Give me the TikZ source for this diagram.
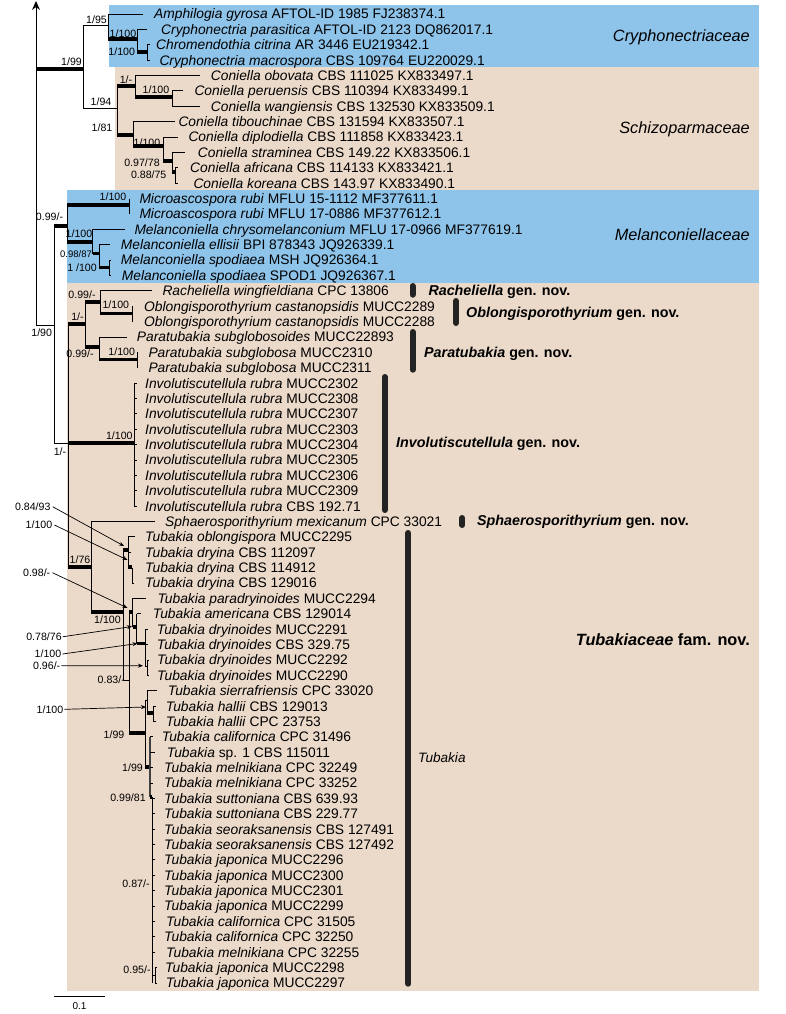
\documentclass[tikz,border=0pt]{standalone}
\usepackage{fontspec}
\setmainfont{Liberation Sans}
\usetikzlibrary{arrows.meta}
\definecolor{cblue}{RGB}{142,195,234}
\definecolor{ctan}{RGB}{235,217,201}
\definecolor{barc}{RGB}{35,35,35}
\begin{document}
\begin{tikzpicture}[x=1pt,y=-1pt,
  declare function={ry(\i)=14+15.38*\i;},
  br/.style={line width=0.9pt},
  tk/.style={line width=3.6pt},
  tax/.style={anchor=base west,inner sep=0pt,font=\fontsize{13.8}{15}\selectfont,yshift=-4.9pt},
  sup/.style={anchor=base,inner sep=0pt,font=\fontsize{10.6}{12}\selectfont,yshift=-3.8pt},
  supsm/.style={anchor=base,inner sep=0pt,font=\fontsize{9.5}{11}\selectfont,yshift=-3.4pt},
  cbar/.style={line width=6pt,line cap=round,draw=barc},
  gen/.style={anchor=base west,inner sep=0pt,font=\fontsize{14.3}{16}\selectfont\bfseries,yshift=-5.1pt},
  fam/.style={anchor=base east,inner sep=0pt,font=\fontsize{16.3}{18}\selectfont,yshift=-5.8pt},
  arr/.style={line width=0.7pt,-{Stealth[length=5pt,width=4pt]}}
]
\useasboundingbox (0,0) rectangle (786,1014);
% backgrounds
\fill[cblue] (109,5) rectangle (759,67);
\fill[ctan] (115,67) rectangle (759,190);
\fill[cblue] (67,190) rectangle (759,283);
\fill[ctan] (67,283) rectangle (759,991);

% taxa
\foreach \i/\x/\a/\b in {
0/154/{Amphilogia gyrosa}/{AFTOL-ID 1985 FJ238374.1},
1/161/{Cryphonectria parasitica}/{AFTOL-ID 2123 DQ862017.1},
2/156/{Chromendothia citrina}/{AR 3446 EU219342.1},
3/159.3/{Cryphonectria macrospora}/{CBS 109764 EU220029.1},
4/210.7/{Coniella obovata}/{CBS 111025 KX833497.1},
5/194.3/{Coniella peruensis}/{CBS 110394 KX833499.1},
6/210.7/{Coniella wangiensis}/{CBS 132530 KX833509.1},
7/178.3/{Coniella tibouchinae}/{CBS 131594 KX833507.1},
8/188.3/{Coniella diplodiella}/{CBS 111858 KX833423.1},
9/197.7/{Coniella straminea}/{CBS 149.22 KX833506.1},
10/190/{Coniella africana}/{CBS 114133 KX833421.1},
11/193.3/{Coniella koreana}/{CBS 143.97 KX833490.1},
12/139.3/{Microascospora rubi}/{MFLU 15-1112 MF377611.1},
13/139.3/{Microascospora rubi}/{MFLU 17-0886 MF377612.1},
14/134.3/{Melanconiella chrysomelanconium}/{MFLU 17-0966 MF377619.1},
15/120.7/{Melanconiella ellisii}/{BPI 878343 JQ926339.1},
16/120.7/{Melanconiella spodiaea}/{MSH JQ926364.1},
17/121.7/{Melanconiella spodiaea}/{SPOD1 JQ926367.1},
18/162.3/{Racheliella wingfieldiana}/{CPC 13806},
19/144/{Oblongisporothyrium castanopsidis}/{MUCC2289},
20/144/{Oblongisporothyrium castanopsidis}/{MUCC2288},
21/136.7/{Paratubakia subglobosoides}/{MUCC22893},
22/148.3/{Paratubakia subglobosa}/{MUCC2310},
23/148.3/{Paratubakia subglobosa}/{MUCC2311},
24/145/{Involutiscutellula rubra}/{MUCC2302},
25/145/{Involutiscutellula rubra}/{MUCC2308},
26/145/{Involutiscutellula rubra}/{MUCC2307},
27/145/{Involutiscutellula rubra}/{MUCC2303},
28/145/{Involutiscutellula rubra}/{MUCC2304},
29/145/{Involutiscutellula rubra}/{MUCC2305},
30/145/{Involutiscutellula rubra}/{MUCC2306},
31/145/{Involutiscutellula rubra}/{MUCC2309},
32/145/{Involutiscutellula rubra}/{CBS 192.71},
33/165/{Sphaerosporithyrium mexicanum}/{CPC 33021},
34/145/{Tubakia oblongispora}/{MUCC2295},
35/145/{Tubakia dryina}/{CBS 112097},
36/145/{Tubakia dryina}/{CBS 114912},
37/145/{Tubakia dryina}/{CBS 129016},
38/157.3/{Tubakia paradryinoides}/{MUCC2294},
39/152.7/{Tubakia americana}/{CBS 129014},
40/156.7/{Tubakia dryinoides}/{MUCC2291},
41/156.7/{Tubakia dryinoides}/{CBS 329.75},
42/157/{Tubakia dryinoides}/{MUCC2292},
43/157/{Tubakia dryinoides}/{MUCC2290},
44/167.7/{Tubakia sierrafriensis}/{CPC 33020},
45/165.7/{Tubakia hallii}/{CBS 129013},
46/165.7/{Tubakia hallii}/{CPC 23753},
47/161.7/{Tubakia californica}/{CPC 31496},
48/166.7/{Tubakia}/{sp. 1 CBS 115011},
49/164/{Tubakia melnikiana}/{CPC 32249},
50/164/{Tubakia melnikiana}/{CPC 33252},
51/164/{Tubakia suttoniana}/{CBS 639.93},
52/164/{Tubakia suttoniana}/{CBS 229.77},
53/164/{Tubakia seoraksanensis}/{CBS 127491},
54/164/{Tubakia seoraksanensis}/{CBS 127492},
55/164/{Tubakia japonica}/{MUCC2296},
56/164/{Tubakia japonica}/{MUCC2300},
57/164/{Tubakia japonica}/{MUCC2301},
58/164/{Tubakia japonica}/{MUCC2299},
59/166/{Tubakia californica}/{CPC 31505},
60/164/{Tubakia californica}/{CPC 32250},
61/166/{Tubakia melnikiana}/{CPC 32255},
62/165/{Tubakia japonica}/{MUCC2298},
63/165.7/{Tubakia japonica}/{MUCC2297}}
{\node[tax] (t\i) at (\x,{ry(\i)}) {\textit{\a} \b};}

% root
\draw[br,-{Stealth[length=9pt,width=8pt]}] (36,325) -- (36,1);
\draw[br] (36,325) -- (54,325);
\draw[tk] (36,69) -- (83,69);
% Cryphonectriaceae
\draw[br] (83,25) -- (83,108);
\draw[br] (83,25) -- (108,25);
\draw[br] (108,{ry(0)}) -- (108,39.3);
\draw[br] (108,{ry(0)}) -- (143,{ry(0)});
\draw[tk] (108,39.3) -- (137,39.3);
\draw[br] (137,{ry(1)}) -- (137,52);
\draw[br] (137,{ry(1)}) -- (147,{ry(1)});
\draw[tk] (137,52) -- (147,52);
\draw[br] (147,{ry(2)}) -- (147,{ry(3)});
\draw[br] (147,{ry(2)}) -- (150,{ry(2)});
\draw[br] (147,{ry(3)}) -- (150,{ry(3)});
% Schizoparmaceae
\draw[br] (83,108) -- (117,108);
\draw[br] (117,86) -- (117,135);
\draw[tk] (117,86) -- (135,86);
\draw[br] (135,{ry(4)}) -- (135,97);
\draw[br] (135,{ry(4)}) -- (200,{ry(4)});
\draw[tk] (135,97) -- (172,97);
\draw[br] (172,{ry(5)}) -- (172,{ry(6)});
\draw[br] (172,{ry(5)}) -- (183,{ry(5)});
\draw[br] (172,{ry(6)}) -- (200,{ry(6)});
\draw[tk] (117,135) -- (133,135);
\draw[br] (133,{ry(7)}) -- (133,146);
\draw[br] (133,{ry(7)}) -- (175,{ry(7)});
\draw[tk] (133,146) -- (163,146);
\draw[br] (163,{ry(8)}) -- (163,161);
\draw[br] (163,{ry(8)}) -- (178,{ry(8)});
\draw[tk] (163,161) -- (172,161);
\draw[br] (172,{ry(9)}) -- (172,172);
\draw[br] (172,{ry(9)}) -- (185,{ry(9)});
\draw[tk] (172,172) -- (175,172);
\draw[br] (175,{ry(10)}) -- (175,{ry(11)});
\draw[br] (175,{ry(10)}) -- (178,{ry(10)});
\draw[br] (175,{ry(11)}) -- (178,{ry(11)});
% Melanconiellaceae
\draw[br] (54,226) -- (54,443);
\draw[tk] (54,226) -- (67,226);
\draw[br] (67,205) -- (67,241.7);
\draw[tk] (67,205) -- (129,205);
\draw[br] (129,{ry(12)}) -- (129,{ry(13)});
\draw[tk] (67,241.7) -- (92.7,241.7);
\draw[br] (92.7,{ry(14)}) -- (92.7,253.5);
\draw[br] (92.7,{ry(14)}) -- (125,{ry(14)});
\draw[tk] (92.7,253.5) -- (99.3,253.5);
\draw[br] (99.3,{ry(15)}) -- (99.3,267.3);
\draw[br] (99.3,{ry(15)}) -- (110,{ry(15)});
\draw[tk] (99.3,267.3) -- (109,267.3);
\draw[br] (109,{ry(16)}) -- (109,{ry(17)});
\draw[br] (109,{ry(16)}) -- (111,{ry(16)});
\draw[br] (109,{ry(17)}) -- (111,{ry(17)});
% Tubakiaceae
\draw[br] (54,443) -- (68,443);
\draw[br] (68,324) -- (68,567);
\draw[tk] (68,324) -- (85,324);
\draw[br] (85,301.7) -- (85,346.7);
\draw[tk] (85,301.7) -- (100,301.7);
\draw[br] (100,{ry(18)}) -- (100,313.3);
\draw[br] (100,{ry(18)}) -- (152,{ry(18)});
\draw[tk] (100,313.3) -- (132,313.3);
\draw[br] (132,{ry(19)}) -- (132,{ry(20)});
\draw[tk] (85,346.7) -- (99,346.7);
\draw[br] (99,{ry(21)}) -- (99,359.3);
\draw[br] (99,{ry(21)}) -- (127,{ry(21)});
\draw[tk] (99,359.3) -- (137.7,359.3);
\draw[br] (137.7,{ry(22)}) -- (137.7,{ry(23)});
\draw[tk] (68,443) -- (134.3,443);
\draw[br] (134.3,{ry(24)}) -- (134.3,{ry(32)});
\foreach \i in {24,...,32} {\draw[br] (134.3,{ry(\i)}) -- (136.5,{ry(\i)});}
\draw[tk] (68,567) -- (91,567);
\draw[br] (91,{ry(33)}) -- (91,611.7);
\draw[br] (91,{ry(33)}) -- (155,{ry(33)});
\draw[tk] (91,611.7) -- (123,611.7);
\draw[br] (123,550) -- (123,680);
\draw[tk] (123,550) -- (128,550);
\draw[br] (128,{ry(34)}) -- (128,567);
\draw[br] (128,{ry(34)}) -- (135,{ry(34)});
\draw[br] (128,{ry(35)}) -- (131,{ry(35)});
\draw[tk] (128,567) -- (132,567);
\draw[br] (132,{ry(36)}) -- (132,{ry(37)});
\draw[br] (132,{ry(37)}) -- (134,{ry(37)});
\draw[br] (123,680) -- (129,680);
\draw[br] (129,611.7) -- (129,733);
\draw[tk] (129,611.7) -- (132.7,611.7);
\draw[br] (132.7,{ry(38)}) -- (132.7,627);
\draw[br] (132.7,{ry(38)}) -- (146,{ry(38)});
\draw[tk] (132.7,627) -- (136.7,627);
\draw[br] (136.7,{ry(39)}) -- (136.7,643.3);
\draw[br] (136.7,{ry(39)}) -- (141,{ry(39)});
\draw[tk] (136.7,643.3) -- (145,643.3);
\draw[br] (145,{ry(40)}) -- (145,666);
\draw[br] (145,{ry(40)}) -- (148,{ry(40)});
\draw[br] (145,{ry(41)}) -- (148,{ry(41)});
\draw[br] (145,666) -- (147,666);
\draw[br] (147,{ry(42)}) -- (147,{ry(43)});
\draw[br] (147,{ry(42)}) -- (149,{ry(42)});
\draw[br] (147,{ry(43)}) -- (149,{ry(43)});
\draw[tk] (129,733) -- (145,733);
\draw[br] (145,700) -- (145,767);
\draw[br] (145,700) -- (147,700);
\draw[br] (147,{ry(44)}) -- (147,713);
\draw[br] (147,{ry(44)}) -- (157,{ry(44)});
\draw[tk] (147,713) -- (153,713);
\draw[br] (153,{ry(45)}) -- (153,{ry(46)});
\draw[br] (153,{ry(45)}) -- (156,{ry(45)});
\draw[br] (153,{ry(46)}) -- (156,{ry(46)});
\draw[tk] (145,767) -- (150,767);
\draw[line width=1.5pt,black!75] (150,{ry(47)}) -- (150,797);
\draw[br] (150,{ry(47)}) -- (153,{ry(47)});
\draw[br] (150,{ry(48)}) -- (155,{ry(48)});
\draw[br] (150,{ry(49)}) -- (153,{ry(49)});
\draw[br] (150,{ry(50)}) -- (153,{ry(50)});
\draw[tk] (150,797) -- (152.3,797);
\draw[line width=1.3pt] (152.3,797) -- (152.3,{ry(63)});
\foreach \i in {51,...,61} {\draw[br] (152.3,{ry(\i)}) -- (155,{ry(\i)});}
\draw[br] (152.3,{(ry(62)+ry(63))/2}) -- (155,{(ry(62)+ry(63))/2});
\draw[br] (155,{ry(62)}) -- (155,{ry(63)});
\draw[br] (155,{ry(62)}) -- (157,{ry(62)});
\draw[br] (155,{ry(63)}) -- (157,{ry(63)});

% support values
\node[sup] (s1) at (71.5,61.7) {1/99};
\node[sup] (s2) at (96.5,19.5) {1/95};
\node[sup] (s3) at (123,33.3) {1/100};
\node[sup] (s4) at (121.7,51.7) {1/100};
\node[sup] (s5) at (126,79.5) {1/-};
\node[sup] (s6) at (101,102) {1/94};
\node[sup] (s7) at (156,90) {1/100};
\node[sup] (s8) at (102,128) {1/81};
\node[sup] (s9) at (147,142.7) {1/100};
\node[sup] (s10) at (142,163) {0.97/78};
\node[sup] (s11) at (148.7,175) {0.88/75};
\node[sup] (s12) at (49.5,216.7) {0.99/-};
\node[sup] (s13) at (113,196.7) {1/100};
\node[sup] (s14) at (79,233.3) {1/100};
\node[supsm] (s15) at (76,254) {0.98/87};
\node[sup] (s16) at (82,267.3) {1 /100};
\node[sup] (s17) at (82,295) {0.99/-};
\node[sup] (s18) at (115.8,305) {1/100};
\node[sup] (s19) at (77.5,316.7) {1/-};
\node[sup] (s20) at (41.7,332.7) {1/90};
\node[sup] (s21) at (80,353.3) {0.99/-};
\node[sup] (s22) at (121.7,351.7) {1/100};
\node[sup] (s23) at (119.3,436) {1/100};
\node[sup] (s24) at (60,451.7) {1/-};
\node[sup] (s25) at (80,559.3) {1/76};
\node[sup] (s26) at (107.5,619.3) {1/100};
\node[sup] (s27) at (111.3,680) {0.83/-};
\node[sup] (s28) at (114,734.3) {1/99};
\node[sup] (s29) at (132.5,767.3) {1/99};
\node[sup] (s30) at (128,797.3) {0.99/81};
\node[sup] (s31) at (136,884) {0.87/-};
\node[sup] (s32) at (137,970) {0.95/-};
% labels with arrows
\node[sup] (a1) at (32.8,506.7) {0.84/93};
\node[sup] (a2) at (39,525) {1/100};
\node[sup] (a3) at (36.7,572.7) {0.98/-};
\node[sup] (a4) at (44,636.7) {0.78/76};
\node[sup] (a5) at (48,654) {1/100};
\node[sup] (a6) at (46.7,665.7) {0.96/-};
\node[sup] (a7) at (50,709.3) {1/100};
\coordinate (p1) at (124,546);
\coordinate (p2) at (127.5,560);
\coordinate (p3) at (127.5,608);
\coordinate (p4) at (132,626.5);
\coordinate (p5) at (137.5,643.5);
\coordinate (p6) at (143,665.7);
\coordinate (p7) at (146,707);
\draw[arr] ([xshift=2pt]a1.east) -- (p1);
\draw[arr] ([xshift=2pt]a2.east) -- (p2);
\draw[arr] ([xshift=2pt]a3.east) -- (p3);
\draw[arr] ([xshift=1pt]a4.east) -- (p4);
\draw[arr] ([xshift=1pt]a5.east) -- (p5);
\draw[arr] ([xshift=1pt]a6.east) -- (p6);
\draw[arr] ([xshift=1pt]a7.east) -- (p7);

% clade bars and names
\draw[cbar] (412.5,286) -- (412.5,294.7);
\draw[cbar] (456,301) -- (456,323);
\draw[cbar] (412.7,332) -- (412.7,369.7);
\draw[cbar] (384.7,377) -- (384.7,510);
\draw[cbar] (462.3,518) -- (462.3,525);
\draw[cbar] (408.3,533) -- (408.3,983.7);
\node[gen] (g1) at (428.3,290) {\textit{Racheliella} gen. nov.};
\node[gen] (g2) at (466,312.7) {\textit{Oblongisporothyrium} gen. nov.};
\node[gen] (g3) at (424,352.7) {\textit{Paratubakia} gen. nov.};
\node[gen] (g4) at (396,442.7) {\textit{Involutiscutellula} gen. nov.};
\node[gen] (g5) at (477,520.7) {\textit{Sphaerosporithyrium} gen. nov.};
\node[anchor=base west,inner sep=0pt,font=\fontsize{13.6}{15}\selectfont\itshape,yshift=-4.8pt] (g6) at (418,757.3) {Tubakia};
\node[fam] (f1) at (750,35.7) {\textit{Cryphonectriaceae}};
\node[fam] (f2) at (750,127.7) {\textit{Schizoparmaceae}};
\node[fam] (f3) at (750,235) {\textit{Melanconiellaceae}};
\node[fam] (f4) at (750,639.3) {\bfseries\textit{Tubakiaceae} fam. nov.};

% scale bar
\coordinate (sb1) at (54.3,996.7);
\coordinate (sb2) at (105,996.7);
\draw[br] (sb1) -- (sb2);
\node[anchor=base,inner sep=0pt,font=\fontsize{10}{12}\selectfont] (sbl) at (79.5,1009) {0.1};
\end{tikzpicture}
\end{document}
